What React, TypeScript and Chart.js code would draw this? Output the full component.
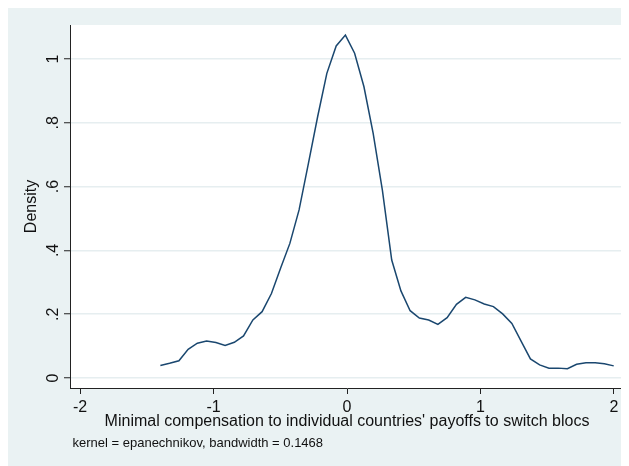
import React, { useEffect, useRef } from 'react';
import { Chart, registerables } from 'chart.js';

Chart.register(...registerables);

const gridX = [
  -1.398, -1.329, -1.259, -1.19, -1.121, -1.052, -0.982, -0.913, -0.844, -0.775,
  -0.705, -0.636, -0.566, -0.497, -0.428, -0.359, -0.289, -0.22, -0.151, -0.081,
  -0.012, 0.057, 0.127, 0.196, 0.265, 0.335, 0.404, 0.473, 0.542, 0.612,
  0.681, 0.75, 0.82, 0.889, 0.958, 1.028, 1.097, 1.166, 1.235, 1.305,
  1.374, 1.443, 1.513, 1.582, 1.651, 1.72, 1.79, 1.859, 1.928, 1.998,
];

const density = [
  0.039, 0.046, 0.054, 0.09, 0.109, 0.116, 0.111, 0.102, 0.112, 0.132,
  0.182, 0.208, 0.265, 0.345, 0.422, 0.527, 0.673, 0.819, 0.955, 1.041,
  1.075, 1.018, 0.913, 0.767, 0.589, 0.37, 0.273, 0.211, 0.188, 0.182,
  0.168, 0.189, 0.231, 0.253, 0.245, 0.232, 0.224, 0.201, 0.171, 0.115,
  0.06, 0.041, 0.031, 0.031, 0.029, 0.043, 0.048, 0.048, 0.045, 0.038,
];

const xTickValues = [-2, -1, 0, 1, 2];
const xTickLabels = ['-2', '-1', '0', '1', '2'];
const yTickValues = [0, 0.2, 0.4, 0.6, 0.8, 1];
const yTickLabels = ['0', '.2', '.4', '.6', '.8', '1'];

const xTitle = "Minimal compensation to individual countries' payoffs to switch blocs";
const yTitle = 'Density';
const note = 'kernel = epanechnikov, bandwidth = 0.1468';

const FONT = "'Liberation Sans', Arial, Helvetica, sans-serif";
const BG = '#EAF2F3';
const GRID = '#E6EEF0';
const LINE = '#1A476F';
const INK = '#111111';

export default function App() {
  const ref = useRef<HTMLCanvasElement | null>(null);

  useEffect(() => {
    const canvas = ref.current;
    if (!canvas) return;

    const framePlugin = {
      id: 'frame',
      beforeDraw(chart: any) {
        const { ctx, width, height, chartArea } = chart;
        ctx.save();
        ctx.fillStyle = BG;
        ctx.fillRect(0, 0, width, height);
        ctx.fillStyle = '#FFFFFF';
        ctx.fillRect(
          chartArea.left,
          chartArea.top,
          chartArea.right - chartArea.left,
          chartArea.bottom - chartArea.top
        );
        ctx.restore();
      },
      afterDraw(chart: any) {
        const { ctx, chartArea } = chart;
        ctx.save();
        ctx.fillStyle = INK;
        ctx.font = `13px ${FONT}`;
        ctx.textAlign = 'left';
        ctx.textBaseline = 'middle';
        ctx.fillText(note, chartArea.left + 2.5, 435);
        ctx.restore();
      },
    };

    const chart = new Chart(canvas, {
      type: 'line',
      data: {
        datasets: [
          {
            data: gridX.map((x, i) => ({ x, y: density[i] })),
            borderColor: LINE,
            borderWidth: 1.5,
            pointRadius: 0,
            tension: 0,
            fill: false,
          },
        ],
      },
      options: {
        responsive: false,
        animation: false,
        devicePixelRatio: 1,
        layout: { padding: { top: 17, right: 5, left: 0, bottom: 0 } },
        plugins: {
          legend: { display: false },
          tooltip: { enabled: false },
        },
        scales: {
          x: {
            type: 'linear',
            min: -2.075,
            max: 2.075,
            afterBuildTicks: (scale: any) => {
              scale.ticks = xTickValues.map((v) => ({ value: v }));
            },
            afterFit: (scale: any) => {
              scale.height = 78;
            },
            ticks: {
              autoSkip: false,
              maxRotation: 0,
              minRotation: 0,
              padding: 4,
              color: INK,
              font: { family: FONT, size: 16 },
              callback: (v: any) => {
                const i = xTickValues.indexOf(Number(v));
                return i >= 0 ? xTickLabels[i] : '';
              },
            },
            grid: {
              drawOnChartArea: false,
              drawTicks: true,
              tickLength: 6,
              tickColor: '#222222',
              tickWidth: 1,
            },
            border: { display: true, color: '#222222', width: 1 },
            title: {
              display: true,
              text: xTitle,
              color: INK,
              font: { family: FONT, size: 16 },
              padding: { top: 0, bottom: 34.5 },
            },
          },
          y: {
            type: 'linear',
            min: -0.0313,
            max: 1.1066,
            afterBuildTicks: (scale: any) => {
              scale.ticks = yTickValues.map((v) => ({ value: v }));
            },
            afterFit: (scale: any) => {
              scale.width = 62;
            },
            ticks: {
              autoSkip: false,
              minRotation: 90,
              maxRotation: 90,
              crossAlign: 'center',
              padding: 4,
              color: INK,
              font: { family: FONT, size: 16 },
              callback: (v: any) => {
                const n = Number(v);
                const i = yTickValues.findIndex((t) => Math.abs(t - n) < 1e-9);
                return i >= 0 ? yTickLabels[i] : '';
              },
            },
            grid: {
              drawOnChartArea: true,
              color: GRID,
              lineWidth: 1.5,
              drawTicks: true,
              tickLength: 6,
              tickColor: '#222222',
              tickWidth: 1,
            },
            border: { display: true, color: '#222222', width: 1 },
            title: {
              display: true,
              text: yTitle,
              color: INK,
              font: { family: FONT, size: 16 },
              padding: { top: 14, bottom: 0 },
            },
          },
        },
      },
      plugins: [framePlugin],
    });

    return () => {
      chart.destroy();
    };
  }, []);

  return (
    <div style={{ width: 621, height: 458 }}>
      <canvas ref={ref} width={621} height={458} style={{ display: 'block', width: 621, height: 458 }} />
    </div>
  );
}
